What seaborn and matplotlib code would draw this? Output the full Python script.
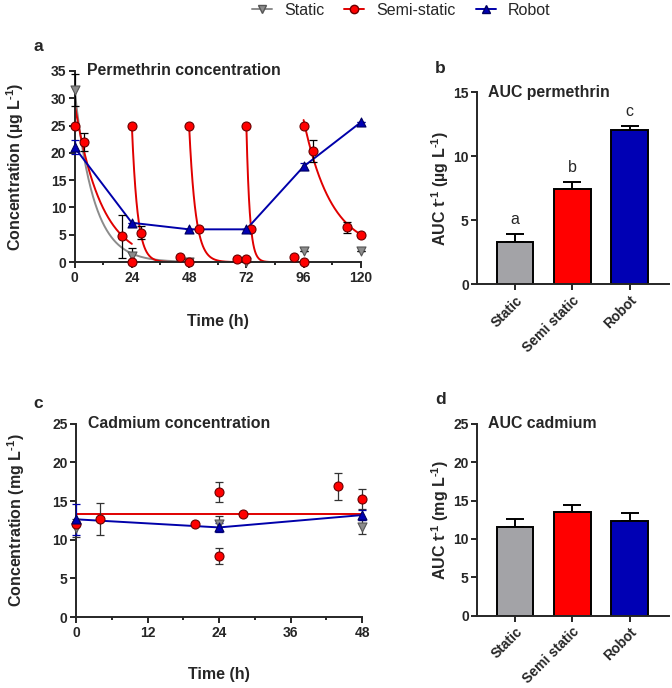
import numpy as np
import pandas as pd
import seaborn as sns
import matplotlib.pyplot as plt
from matplotlib.lines import Line2D
from matplotlib.ticker import MultipleLocator

# --- permethrin, measured concentration (ug/L) ---
static_t = [0, 24, 48, 72, 96, 120]
static_c = [31.5, 1.1, 0.0, 0.0, 2.0, 2.0]
static_err = [3.0, 1.5, 0, 0, 0, 0]

semi_t = [0, 4, 20, 24, 24, 28, 44, 48, 48, 52, 68, 72, 72, 74, 92, 96, 96, 100, 114, 120]
semi_c = [25, 22, 4.7, 0, 25, 5.4, 1.0, 0, 25, 6.0, 0.6, 0.6, 25, 6.0, 1.0, 0, 25, 20.4, 6.4, 5.0]
semi_err = [0, 1.6, 4.0, 0, 0, 1.2, 0, 0, 0, 0, 0, 0, 0, 0, 0, 0, 0, 2.0, 1.0, 0]

robot_t = [0, 24, 48, 72, 96, 120]
robot_c = [21.0, 7.2, 6.0, 6.0, 17.5, 25.6]
robot_err = [1.3, 0, 0, 0, 0.7, 0]

# one-phase decay fits: (start h, end h, C0, k per h, plateau)
static_fit = [(0, 48, 31.5, 0.125, 0.0)]
semi_fits = [(0, 24, 29, 0.09, 0.0), (24, 48, 25, 0.42, 0.0), (48, 72, 25, 0.37, 0.0),
             (72, 96, 25, 0.70, 0.0), (96, 120, 24, 0.086, 2.0)]

# --- cadmium, measured concentration (mg/L) ---
cd_static_t = [0, 24, 48]
cd_static_c = [11.5, 12.1, 11.7]
cd_static_err = [1.2, 1.0, 0.9]

cd_semi_t = [0, 4, 20, 24, 24, 28, 44, 48]
cd_semi_c = [12.1, 12.7, 12.05, 16.2, 7.9, 13.4, 16.9, 15.3]
cd_semi_err = [0, 2.05, 0, 1.3, 1.0, 0, 1.7, 1.3]
cd_semi_mean = 13.4

cd_robot_t = [0, 24, 48]
cd_robot_c = [12.65, 11.6, 13.2]
cd_robot_err = [2.0, 0.6, 0.6]

# --- AUC per time ---
groups = ["Static", "Semi static", "Robot"]
auc_perm = [3.3, 7.42, 12.06]
auc_perm_err = [0.65, 0.6, 0.32]
auc_perm_letters = ["a", "b", "c"]
auc_cd = [11.6, 13.56, 12.35]
auc_cd_err = [1.05, 0.87, 1.08]

GRAY, RED, BLUE = "#a3a3a7", "#ff0000", "#0000b4"
LGRAY, LRED, LBLUE = "#8c8c8c", "#e00000", "#0000aa"

sns.set_theme(style="ticks")
plt.rcParams["font.family"] = ["Liberation Sans", "DejaVu Sans"]
plt.rcParams["font.weight"] = "bold"
plt.rcParams["mathtext.fontset"] = "custom"
plt.rcParams["mathtext.rm"] = "Liberation Sans:bold"
plt.rcParams["mathtext.bf"] = "Liberation Sans:bold"
plt.rcParams["mathtext.it"] = "Liberation Sans:bold"
plt.rcParams["axes.linewidth"] = 1.4
plt.rcParams["xtick.major.width"] = 1.4
plt.rcParams["ytick.major.width"] = 1.4
plt.rcParams["xtick.minor.width"] = 1.4
plt.rcParams["xtick.major.size"] = 4
plt.rcParams["ytick.major.size"] = 4
plt.rcParams["xtick.minor.size"] = 2.5
plt.rcParams["xtick.labelsize"] = 10
plt.rcParams["ytick.labelsize"] = 10
plt.rcParams["xtick.major.pad"] = 2.5
plt.rcParams["ytick.major.pad"] = 2

fig = plt.figure(figsize=(6.72, 6.88), dpi=100)
ax_a = fig.add_axes([0.111, 0.619, 0.426, 0.278])
ax_b = fig.add_axes([0.710, 0.587, 0.285, 0.279])
ax_c = fig.add_axes([0.113, 0.103, 0.426, 0.281])
ax_d = fig.add_axes([0.710, 0.105, 0.285, 0.279])

mk = dict(s=42, linewidth=0.8, zorder=5, clip_on=False, legend=False)
SUP = "$^{\\text{-}1}$"


def fit_curves(fits):
    rows = []
    for i, (t0, t1, c0, k, plat) in enumerate(fits):
        t = np.linspace(t0, t1, 200)
        rows.append(pd.DataFrame({"t": t, "c": c0 * np.exp(-k * (t - t0)) + plat, "seg": i}))
    return pd.concat(rows)


def errs(ax, t, c, e, color):
    ax.errorbar(t, c, yerr=e, fmt="none", ecolor=color, elinewidth=0.9,
                capsize=3, capthick=0.9, zorder=4, clip_on=False)


# ---------- a: permethrin concentration ----------
ax = ax_a
sns.lineplot(data=fit_curves(static_fit), x="t", y="c", units="seg", estimator=None,
             color=LGRAY, lw=1.4, ax=ax)
sns.lineplot(data=fit_curves(semi_fits), x="t", y="c", units="seg", estimator=None,
             color=LRED, lw=1.4, ax=ax)
sns.lineplot(x=robot_t, y=robot_c, color=LBLUE, lw=1.4, ax=ax)
errs(ax, static_t, static_c, static_err, "black")
errs(ax, semi_t, semi_c, semi_err, "black")
errs(ax, robot_t, robot_c, robot_err, LBLUE)
sns.scatterplot(x=static_t, y=static_c, marker="v", color=LGRAY, edgecolor="#555555", ax=ax, **mk)
sns.scatterplot(x=semi_t, y=semi_c, marker="o", color=RED, edgecolor="#6a0000", ax=ax, **mk)
sns.scatterplot(x=robot_t, y=robot_c, marker="^", color=BLUE, edgecolor="#000060", ax=ax, **mk)
ax.set_xlim(0, 120)
ax.set_ylim(0, 35)
ax.xaxis.set_major_locator(MultipleLocator(24))
ax.xaxis.set_minor_locator(MultipleLocator(12))
ax.yaxis.set_major_locator(MultipleLocator(5))
ax.set_xlabel("Time (h)", fontsize=11.5, fontweight="bold")
ax.set_ylabel("Concentration (µg L" + SUP + ")", fontsize=11.5, fontweight="bold")
ax.xaxis.set_label_coords(0.5, -0.27)
ax.yaxis.set_label_coords(-0.17, 0.5)
ax.text(0.045, 1.0, "Permethrin concentration", transform=ax.transAxes,
        fontsize=11.4, fontweight="bold", va="center", ha="left")

# ---------- c: cadmium concentration ----------
ax = ax_c
sns.lineplot(x=[min(cd_semi_t), max(cd_semi_t)], y=[cd_semi_mean, cd_semi_mean],
             color=LRED, lw=1.4, ax=ax)
sns.lineplot(x=cd_robot_t, y=cd_robot_c, color=LBLUE, lw=1.4, ax=ax)
errs(ax, cd_static_t, cd_static_c, cd_static_err, "#333333")
errs(ax, cd_semi_t, cd_semi_c, cd_semi_err, "#333333")
errs(ax, cd_robot_t, cd_robot_c, cd_robot_err, LBLUE)
sns.scatterplot(x=cd_static_t, y=cd_static_c, marker="v", color=LGRAY, edgecolor="#555555", ax=ax, **mk)
sns.scatterplot(x=cd_semi_t, y=cd_semi_c, marker="o", color=RED, edgecolor="#6a0000", ax=ax, **mk)
sns.scatterplot(x=cd_robot_t, y=cd_robot_c, marker="^", color=BLUE, edgecolor="#000060", ax=ax, **mk)
ax.set_xlim(0, 48)
ax.set_ylim(0, 25)
ax.xaxis.set_major_locator(MultipleLocator(12))
ax.xaxis.set_minor_locator(MultipleLocator(6))
ax.yaxis.set_major_locator(MultipleLocator(5))
ax.set_xlabel("Time (h)", fontsize=11.5, fontweight="bold")
ax.set_ylabel("Concentration (mg L" + SUP + ")", fontsize=11.5, fontweight="bold")
ax.xaxis.set_label_coords(0.5, -0.26)
ax.yaxis.set_label_coords(-0.17, 0.5)
ax.text(0.042, 1.0, "Cadmium concentration", transform=ax.transAxes,
        fontsize=11.4, fontweight="bold", va="center", ha="left")


# ---------- b / d: AUC bars ----------
def auc_bars(ax, vals, err, top, step, title, unit, letters=None):
    df = pd.DataFrame({"group": groups, "auc": vals})
    sns.barplot(data=df, x="group", y="auc", hue="group", palette=[GRAY, RED, BLUE],
                saturation=1, width=0.64, edgecolor="black", linewidth=1.4,
                legend=False, ax=ax)
    ax.errorbar(range(len(vals)), vals, yerr=[[0] * len(vals), err], fmt="none",
                ecolor="black", elinewidth=1.4, capsize=6.5, capthick=1.4, zorder=0)
    if letters:
        for i, (v, e, l) in enumerate(zip(vals, err, letters)):
            ax.text(i, v + e + 1.1, l, ha="center", va="center", fontsize=11.5,
                    fontweight="normal")
    ax.set_xlim(-0.66, 2.68)
    ax.set_ylim(0, top)
    ax.yaxis.set_major_locator(MultipleLocator(step))
    ax.set_xlabel("")
    ax.set_ylabel("AUC t" + SUP + " (" + unit + " L" + SUP + ")", fontsize=11.5,
                  fontweight="bold")
    ax.yaxis.set_label_coords(-0.135, 0.5)
    ax.tick_params(axis="x", labelrotation=45)
    for lab in ax.get_xticklabels():
        lab.set_ha("right")
        lab.set_rotation_mode("anchor")
    ax.text(0.058, 1.0, title, transform=ax.transAxes, fontsize=11.4,
            fontweight="bold", va="center", ha="left")


auc_bars(ax_b, auc_perm, auc_perm_err, 15, 5, "AUC permethrin", "µg", auc_perm_letters)
auc_bars(ax_d, auc_cd, auc_cd_err, 25, 5, "AUC cadmium", "mg")

for ax in (ax_a, ax_b, ax_c, ax_d):
    sns.despine(ax=ax)

for lab, x, y in [("a", 0.0565, 0.932), ("b", 0.655, 0.901), ("c", 0.0565, 0.414), ("d", 0.655, 0.419)]:
    fig.text(x, y, lab, fontsize=12.5, fontweight="bold", ha="center", va="center")

handles = [
    Line2D([], [], color=LGRAY, lw=1.4, marker="v", markerfacecolor=LGRAY, markeredgecolor="#555555", markersize=6),
    Line2D([], [], color=LRED, lw=1.4, marker="o", markerfacecolor=RED, markeredgecolor="#6a0000", markersize=6),
    Line2D([], [], color=LBLUE, lw=1.4, marker="^", markerfacecolor=BLUE, markeredgecolor="#000060", markersize=6),
]
fig.legend(handles, ["Static", "Semi-static", "Robot"], loc="center", bbox_to_anchor=(0.597, 0.985),
           ncol=3, frameon=False, handlelength=1.25, handletextpad=0.75, columnspacing=1.25,
           prop={"size": 11.5, "weight": "normal"})

fig.savefig("out.png", dpi=100)
